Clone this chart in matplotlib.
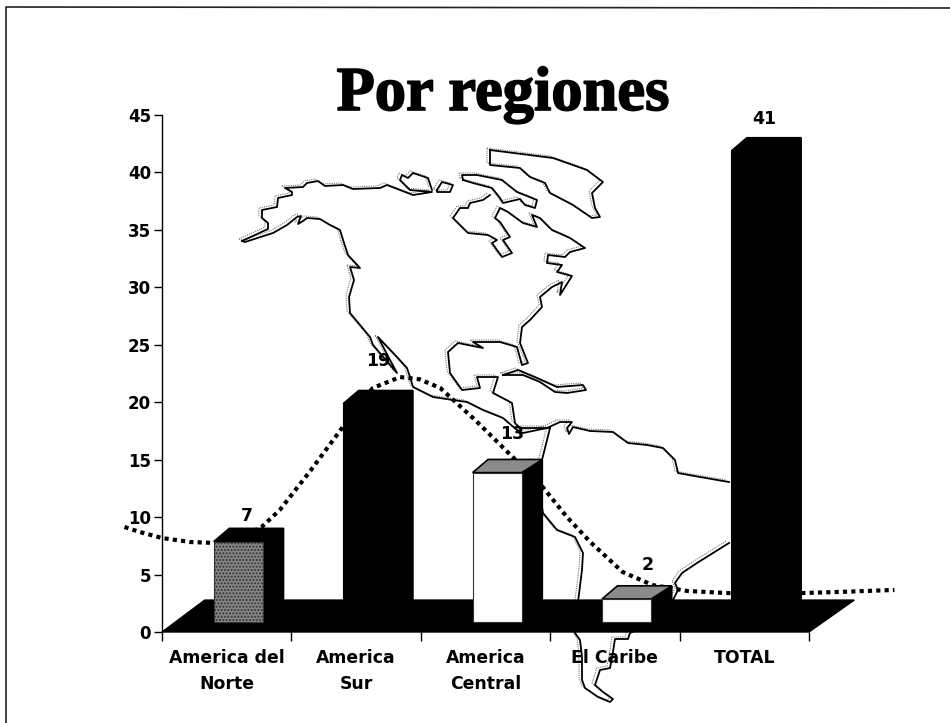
import matplotlib
matplotlib.use('Agg')
import matplotlib.pyplot as plt
import matplotlib.patheffects as pe
from matplotlib.patches import Polygon

# data
categories = ['America del\nNorte', 'America\nSur', 'America\nCentral', 'El Caribe', 'TOTAL']
values = [7, 19, 13, 2, 41]
y_ticks = [0, 5, 10, 15, 20, 25, 30, 35, 40, 45]

# dotted trend line
trend_x = [-0.29, -0.17, 0.0, 0.22, 0.41, 0.60, 0.77, 0.91, 1.14, 1.38, 1.50, 1.63, 1.84, 1.99,
           2.15, 2.42, 2.67, 2.93, 3.13, 3.31, 3.56, 3.79, 4.06, 4.37, 4.66, 4.95, 5.32, 5.66]
trend_y = [9.14, 8.70, 8.18, 7.83, 7.75, 8.18, 9.14, 10.62, 13.93, 17.58, 19.6, 21.24, 22.19, 22.0,
           21.24, 18.45, 15.67, 12.79, 10.0, 7.83, 5.22, 4.09, 3.57, 3.39, 3.35, 3.39, 3.52, 3.66]

# bar styles
front_colors = ['#858585', 'black', 'white', 'white', 'black']
top_colors = ['black', 'black', '#8a8a8a', '#8a8a8a', 'black']
front_hatch = ['.....', None, None, None, None]
# nudges for the number labels, in pixels
label_dx = [-2, 0, 5, 11, -2]
label_dy = [26, 43, 39, 34, 32]

# map outline in image pixels (background picture, not chart data)
map_lines = [
    # west coast down to panama and round south america
    [(242, 241), (245, 242), (273, 233), (287, 225), (297, 217), (301, 216), (298, 224), (303, 221),
     (307, 218), (320, 219), (330, 225), (340, 230), (344, 243), (348, 255), (360, 268), (350, 267),
     (354, 280), (349, 297), (350, 313), (370, 337), (373, 345), (397, 373), (390, 360), (378, 337),
     (397, 357), (407, 368), (410, 377), (413, 387), (433, 397), (453, 400), (467, 402), (483, 410),
     (503, 418), (517, 430), (523, 433), (547, 428), (560, 422), (572, 422), (567, 428), (569, 434),
     (573, 427), (590, 431), (613, 432), (628, 443), (647, 445), (663, 448), (675, 460), (678, 473),
     (700, 477), (729, 482)],
    [(729, 543), (713, 553), (697, 563), (682, 573), (675, 583), (678, 590), (673, 600), (660, 620),
     (630, 633), (628, 639), (615, 639), (612, 658), (610, 668), (600, 670), (595, 685), (603, 692),
     (613, 699), (610, 702), (598, 697), (585, 688), (582, 680), (582, 657), (580, 640), (575, 633),
     (578, 602), (582, 570), (583, 553), (575, 537), (557, 530), (543, 513), (542, 507), (538, 480),
     (542, 460), (547, 440), (550, 428)],
    # north coast
    [(242, 241), (268, 229), (268, 223), (262, 218), (262, 210), (277, 207), (278, 198), (292, 195),
     (292, 192), (285, 188), (303, 187), (307, 183), (318, 181), (325, 186), (343, 185), (353, 189),
     (380, 188), (387, 185), (413, 195), (432, 192), (410, 190), (400, 180), (402, 175), (408, 178),
     (413, 173), (428, 178), (432, 190)],
    [(437, 190), (442, 182), (453, 185), (450, 192), (437, 192), (437, 190)],
    # baffin
    [(463, 180), (462, 175), (477, 175), (502, 180), (517, 192), (537, 200), (535, 208), (525, 205),
     (520, 199), (503, 203), (500, 198), (492, 188), (473, 183), (463, 180)],
    # hudson and the east coast to the gulf
    [(490, 195), (483, 200), (470, 203), (468, 208), (460, 208), (453, 218), (468, 233), (488, 235),
     (497, 240), (492, 243), (502, 257), (512, 253), (503, 240), (510, 237), (500, 222), (495, 218),
     (500, 208), (508, 212), (523, 223), (537, 227), (532, 215), (540, 218), (552, 230), (570, 238),
     (585, 248), (570, 252), (565, 257), (548, 255), (547, 263), (562, 265), (557, 272), (572, 276),
     (560, 295), (562, 282), (552, 287), (540, 297), (542, 307), (530, 320), (522, 327), (520, 343),
     (528, 363), (522, 365), (517, 347), (500, 342), (473, 342), (483, 348), (458, 343), (448, 352),
     (450, 373), (462, 390), (480, 388), (477, 377), (498, 377), (493, 393), (512, 403), (515, 423),
     (520, 428), (550, 428)],
    # cuba
    [(503, 375), (518, 370), (537, 378), (557, 387), (583, 385), (586, 390), (567, 393), (555, 392),
     (540, 382), (523, 375), (503, 375)],
    # top island
    [(490, 150), (553, 158), (587, 170), (603, 182), (592, 193), (595, 208), (600, 217), (592, 218),
     (573, 205), (550, 193), (545, 183), (530, 177), (520, 168), (490, 165), (490, 150)],
]

fig = plt.figure(figsize=(9.5, 7.23), dpi=100, facecolor='white')

# background picture layer
bg = fig.add_axes([0, 0, 1, 1], zorder=0)
bg.set_xlim(0, 950)
bg.set_ylim(723, 0)
bg.axis('off')
# scanned page edge, only left and top show
bg.plot([6, 6, 950], [723, 7, 8], color='#222222', lw=1.2)
for line in map_lines:
    xs = [p[0] for p in line]
    ys = [p[1] for p in line]
    bg.plot([x - 3 for x in xs], [y - 2 for y in ys], color='#777777', lw=0.8, ls=(0, (1, 1)))
    bg.plot(xs, ys, color='black', lw=1.3, solid_joinstyle='round')

# chart layer
ax = fig.add_axes([162 / 950, (723 - 632) / 723, 647 / 950, 517 / 723], zorder=1)
ax.patch.set_visible(False)
ax.set_xlim(0, 5)
ax.set_ylim(0, 45)
for side in ['top', 'right', 'bottom']:
    ax.spines[side].set_visible(False)
ax.spines['left'].set_linewidth(1.0)

ax.set_yticks(y_ticks)
ax.set_yticklabels([str(v) for v in y_ticks], fontsize=12, fontweight='bold', family='DejaVu Sans')
ax.tick_params(axis='y', length=6, width=1, pad=2)
ax.set_xticks(range(6))
ax.set_xticklabels([])
ax.tick_params(axis='x', which='major', length=6.5, width=1)
ax.set_xticks([i + 0.5 for i in range(5)], minor=True)
ax.set_xticklabels(categories, minor=True, fontsize=12.4, fontweight='bold', family='DejaVu Sans', linespacing=1.6)
ax.tick_params(axis='x', which='minor', length=0, pad=12)

# floor, bars sit a little above the front edge of it
depth_x = 0.16
depth_y = 1.15
base = 0.87
left_frac = 0.40
bar_w = 0.38
ax.add_patch(Polygon([(0, 0), (5, 0), (5.35, 2.78), (0.33, 2.78)], closed=True, color='black', zorder=2, clip_on=False))

for i, v in enumerate(values):
    x0 = i + left_frac
    x1 = x0 + bar_w
    top = base + v
    side = Polygon([(x1, base), (x1 + depth_x, base + depth_y), (x1 + depth_x, top + depth_y), (x1, top)],
                   closed=True, color='black', zorder=3, clip_on=False)
    roof = Polygon([(x0, top), (x0 + 0.12, top + depth_y), (x1 + depth_x, top + depth_y), (x1, top)],
                   closed=True, facecolor=top_colors[i], edgecolor='black', lw=1.2, zorder=3, clip_on=False)
    ax.add_patch(side)
    ax.add_patch(roof)
    ax.bar(x0, v, width=bar_w, bottom=base, align='edge', color=front_colors[i], edgecolor='black' if front_colors[i] == 'black' else '#333333',
           hatch=front_hatch[i], lw=0.8, zorder=3, clip_on=False)
    ax.annotate(str(v), xy=(i + 0.67, top), xytext=(label_dx[i] * 0.72, label_dy[i] * 0.72), textcoords='offset points',
                ha='center', va='center', fontsize=12.5, fontweight='bold', family='DejaVu Sans', zorder=6,
                annotation_clip=False)

# trend goes behind bars
ax.plot(trend_x, trend_y, color='black', lw=3, ls=(0, (1, 1)), zorder=1.5, clip_on=False)

fig.text(503 / 950, 1 - 110 / 723, 'Por regiones', ha='center', va='baseline', fontsize=45, fontweight='bold',
         family='Liberation Serif', path_effects=[pe.withStroke(linewidth=1.2, foreground='black')], zorder=5)

fig.savefig('out.png', dpi=100)
